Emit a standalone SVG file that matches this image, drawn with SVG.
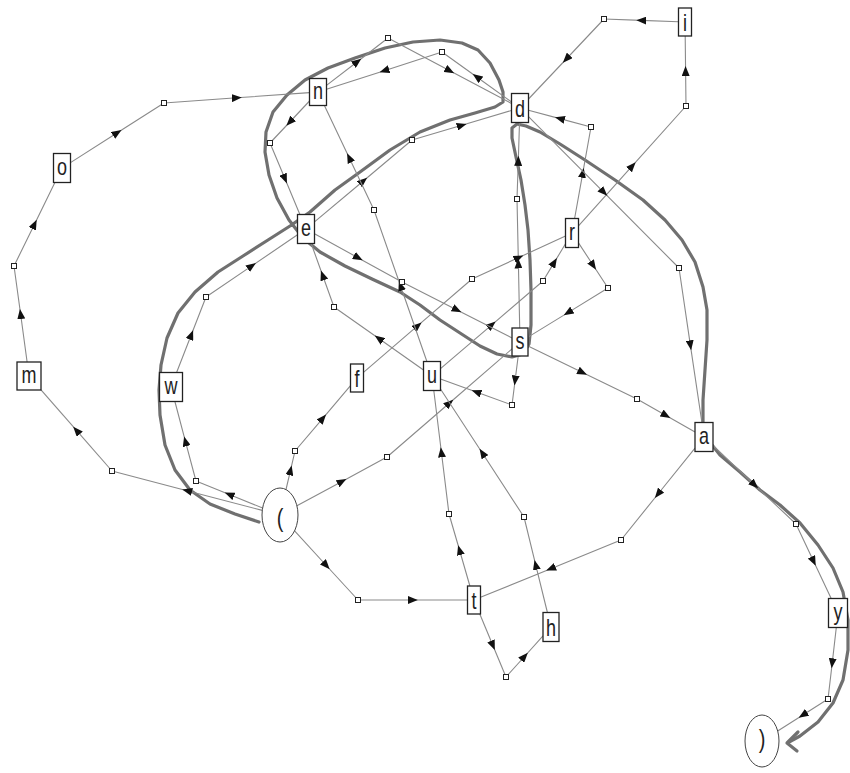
<svg xmlns="http://www.w3.org/2000/svg" width="850" height="773" viewBox="0 0 850 773">
<defs>
<style>
.seg{fill:none;stroke:#8a8a8a;stroke-width:1.1;marker-mid:url(#arr)}
.hl{fill:none;stroke:#707070;stroke-width:3.2;stroke-linejoin:round;stroke-linecap:round}
.bend{fill:#fff;stroke:#222;stroke-width:1}
.box{fill:#fff;stroke:#222;stroke-width:1.3}
.ell{fill:#fff;stroke:#444;stroke-width:1}
.lbl{font-family:"Liberation Sans",Arial,sans-serif;font-size:18px;fill:#222;text-anchor:middle}
.par{font-family:"Liberation Sans",Arial,sans-serif;font-size:20px;fill:#222;text-anchor:middle}
</style>
<marker id="arr" viewBox="0 0 10 8" refX="5" refY="4" markerWidth="10" markerHeight="8" markerUnits="userSpaceOnUse" orient="auto">
<path d="M0,0 L10,4 L0,8 z" fill="#111"/>
</marker>
</defs>
<rect width="850" height="773" fill="#fff"/>
<g id="connectors">
<path id="path-wednesday" class="hl" d="M259,522 L235,514 L210,504 L190,490 L175,470 L165,445 L160,415 L159,390 L161,365 L167,338 L178,313 L195,292 L218,272 L243,256 L268,240 L290,226 L310,212 L335,190 L360,172 L390,150 L420,132 L450,120 L475,113 L495,107 L503,102 L503,92 L499,80 L490,63 L478,50 L462,43 L440,40 L413,42 L385,48 L355,58 L328,68 L305,80 L287,95 L273,112 L266,132 L265,152 L269,175 L277,198 L289,220 L303,238 L320,252 L345,266 L372,279 L400,292 L420,305 L440,320 L460,333 L480,346 L497,354 L512,357 L523,354 L529,344 L531,325 L531,290 L530,260 L528,230 L525,205 L521,180 L516,157 L512,138 L512,128 L517,124 L526,126 L540,132 L560,144 L585,160 L615,180 L643,200 L665,220 L682,240 L695,262 L703,287 L707,310 L707,340 L705,370 L703,400 L703,425 L708,440 L720,455 L740,472 L760,490 L780,505 L800,523 L818,545 L833,568 L843,592 L848,620 L848,650 L843,680 L833,703 L818,722 L800,736 L789,742"/>
<polyline class="hl" points="798,732 787,743 797,751" stroke-width="2.5"/>
<g id="edge-i-d"><path class="seg" d="M678.5,21.8 L641.3,20.4 L604,19"/><path class="seg" d="M604,19 L566.3,59 L528.5,99"/></g>
<g id="edge-r-i"><path class="seg" d="M578.5,225.8 L632.3,165.9 L686,106"/><path class="seg" d="M686,106 L685.6,71 L685.2,36"/></g>
<g id="edge-r-d"><path class="seg" d="M574.6,218.5 L582.8,172.8 L591,127"/><path class="seg" d="M591,127 L559.8,118.6 L528.5,110.3"/></g>
<g id="edge-d-a"><path class="seg" d="M528.5,116.6 L603.8,192.3 L679,268"/><path class="seg" d="M679,268 L690.4,345.3 L701.9,422.5"/></g>
<g id="edge-s-d"><path class="seg" d="M519.7,328 L518.4,263.5 L517,199"/><path class="seg" d="M517,199 L518.3,160.8 L519.5,122.5"/></g>
<g id="edge-s-u"><path class="seg" d="M518.2,356 L515.1,380.5 L512,405"/><path class="seg" d="M512,405 L476.3,392 L440.5,379.1"/></g>
<g id="edge-f-r"><path class="seg" d="M363.5,372.4 L417.8,325.7 L472,279"/><path class="seg" d="M472,279 L518.8,257.5 L565.5,236"/></g>
<g id="edge-start-f"><path class="seg" d="M286,489.5 L290.5,470.3 L295,451"/><path class="seg" d="M295,451 L322.8,418.3 L350.5,385.7"/></g>
<g id="edge-start-s"><path class="seg" d="M296.9,505.8 L342,481.4 L387,457"/><path class="seg" d="M387,457 L449.5,403 L512,348.9"/></g>
<g id="edge-u-r"><path class="seg" d="M440.5,368.7 L491.8,324.8 L543,281"/><path class="seg" d="M543,281 L554.3,262.4 L565.5,243.8"/></g>
<g id="edge-r-s"><path class="seg" d="M578.5,242.9 L593.3,265.5 L608,288"/><path class="seg" d="M608,288 L568,312.6 L528,337.1"/></g>
<g id="edge-s-a"><path class="seg" d="M528,345.9 L582.5,372.5 L637,399"/><path class="seg" d="M637,399 L666,415.5 L695,431.9"/></g>
<g id="edge-t-u"><path class="seg" d="M469.9,586 L459.5,550 L449,514"/><path class="seg" d="M449,514 L441.4,452.3 L433.8,390.5"/></g>
<g id="edge-h-u"><path class="seg" d="M547.4,612.5 L535.7,564.8 L524,517"/><path class="seg" d="M524,517 L482.3,453 L440.5,389"/></g>
<g id="edge-a-t"><path class="seg" d="M695,448.1 L658,494 L621,540"/><path class="seg" d="M621,540 L550.8,568.7 L480.5,597.3"/></g>
<g id="edge-t-h"><path class="seg" d="M479.8,614 L492.9,645.5 L506,677"/><path class="seg" d="M506,677 L524.5,656.5 L543,635.9"/></g>
<g id="edge-start-t"><path class="seg" d="M294.6,530.9 L326.3,565.5 L358,600"/><path class="seg" d="M358,600 L412.8,600 L467.5,600"/></g>
<g id="edge-a-y"><path class="seg" d="M713,445.5 L754.5,484.8 L796,524"/><path class="seg" d="M796,524 L813.6,561.3 L831.2,598.5"/></g>
<g id="edge-y-end"><path class="seg" d="M836.3,627.5 L832.2,663.3 L828,699"/><path class="seg" d="M828,699 L802.9,715 L777.7,731"/></g>
<g id="edge-start-m"><path class="seg" d="M262.3,510.4 L187.1,490.7 L112,471"/><path class="seg" d="M112,471 L76.5,430.4 L41,389.8"/></g>
<g id="edge-m-o"><path class="seg" d="M27.1,362 L20.6,314 L14,266"/><path class="seg" d="M14,266 L34.5,224.3 L54.9,182.5"/></g>
<g id="edge-o-n"><path class="seg" d="M70.5,162.6 L117.3,132.8 L164,103"/><path class="seg" d="M164,103 L236.8,97.8 L309.5,92.6"/></g>
<g id="edge-start-w"><path class="seg" d="M262.6,508 L229.3,494.5 L196,481"/><path class="seg" d="M196,481 L185.4,441.3 L174.9,401.5"/></g>
<g id="edge-w-e"><path class="seg" d="M176.6,372.5 L191.3,334.8 L206,297"/><path class="seg" d="M206,297 L251.8,265.9 L297.5,234.8"/></g>
<g id="edge-n-e"><path class="seg" d="M309.5,101 L289.8,122 L270,143"/><path class="seg" d="M270,143 L285,178.8 L299.9,214.5"/></g>
<g id="edge-e-d"><path class="seg" d="M314.5,221.9 L363.3,181 L412,140"/><path class="seg" d="M412,140 L461.8,125.3 L511.5,110.5"/></g>
<g id="edge-u-e"><path class="seg" d="M423.5,370 L378.8,338.5 L334,307"/><path class="seg" d="M334,307 L322.6,275.3 L311.2,243.5"/></g>
<g id="edge-n-d"><path class="seg" d="M326.5,85.4 L357.3,61.7 L388,38"/><path class="seg" d="M388,38 L449.8,70.8 L511.5,103.5"/></g>
<g id="edge-d-n"><path class="seg" d="M511.5,101.9 L476.8,77 L442,52"/><path class="seg" d="M442,52 L384.3,70.7 L326.5,89.3"/></g>
<g id="edge-e-s"><path class="seg" d="M314.5,233.7 L358.3,257.9 L402,282"/><path class="seg" d="M402,282 L457,310 L512,337.9"/></g>
<g id="edge-u-n"><path class="seg" d="M426.9,361.5 L400.5,285.8 L374,210"/><path class="seg" d="M374,210 L349.2,157.8 L324.4,105.5"/></g>
<g id="bends">
<rect class="bend" x="601.5" y="16.5" width="5" height="5"/>
<rect class="bend" x="683.5" y="103.5" width="5" height="5"/>
<rect class="bend" x="588.5" y="124.5" width="5" height="5"/>
<rect class="bend" x="676.5" y="265.5" width="5" height="5"/>
<rect class="bend" x="514.5" y="196.5" width="5" height="5"/>
<rect class="bend" x="509.5" y="402.5" width="5" height="5"/>
<rect class="bend" x="469.5" y="276.5" width="5" height="5"/>
<rect class="bend" x="292.5" y="448.5" width="5" height="5"/>
<rect class="bend" x="384.5" y="454.5" width="5" height="5"/>
<rect class="bend" x="540.5" y="278.5" width="5" height="5"/>
<rect class="bend" x="605.5" y="285.5" width="5" height="5"/>
<rect class="bend" x="634.5" y="396.5" width="5" height="5"/>
<rect class="bend" x="446.5" y="511.5" width="5" height="5"/>
<rect class="bend" x="521.5" y="514.5" width="5" height="5"/>
<rect class="bend" x="618.5" y="537.5" width="5" height="5"/>
<rect class="bend" x="503.5" y="674.5" width="5" height="5"/>
<rect class="bend" x="355.5" y="597.5" width="5" height="5"/>
<rect class="bend" x="793.5" y="521.5" width="5" height="5"/>
<rect class="bend" x="825.5" y="696.5" width="5" height="5"/>
<rect class="bend" x="109.5" y="468.5" width="5" height="5"/>
<rect class="bend" x="11.5" y="263.5" width="5" height="5"/>
<rect class="bend" x="161.5" y="100.5" width="5" height="5"/>
<rect class="bend" x="193.5" y="478.5" width="5" height="5"/>
<rect class="bend" x="203.5" y="294.5" width="5" height="5"/>
<rect class="bend" x="267.5" y="140.5" width="5" height="5"/>
<rect class="bend" x="409.5" y="137.5" width="5" height="5"/>
<rect class="bend" x="331.5" y="304.5" width="5" height="5"/>
<rect class="bend" x="385.5" y="35.5" width="5" height="5"/>
<rect class="bend" x="439.5" y="49.5" width="5" height="5"/>
<rect class="bend" x="399.5" y="279.5" width="5" height="5"/>
<rect class="bend" x="371.5" y="207.5" width="5" height="5"/>
</g>
</g>
<g id="node-start"><ellipse class="ell" cx="280" cy="515" rx="18" ry="27"/><text class="par" transform="translate(280,515) scale(1,1.3)" y="9">(</text></g>
<g id="node-end"><ellipse class="ell" cx="762" cy="741" rx="17" ry="26"/><text class="par" transform="translate(762,741) scale(1,1.3)" y="5">)</text></g>
<g id="node-i"><rect class="box" x="678.5" y="8" width="13" height="28"/><text class="lbl" transform="translate(685,22) scale(1,1.3)" y="7">i</text></g>
<g id="node-n"><rect class="box" x="309.5" y="78.5" width="17" height="27"/><text class="lbl" transform="translate(318,92) scale(1,1.3)" y="5.5">n</text></g>
<g id="node-d"><rect class="box" x="511.5" y="93.5" width="17" height="29"/><text class="lbl" transform="translate(520,108) scale(1,1.3)" y="7">d</text></g>
<g id="node-o"><rect class="box" x="53.5" y="153.5" width="17" height="29"/><text class="lbl" transform="translate(62,168) scale(1,1.3)" y="5.5">o</text></g>
<g id="node-e"><rect class="box" x="297.5" y="214.5" width="17" height="29"/><text class="lbl" transform="translate(306,229) scale(1,1.3)" y="5.5">e</text></g>
<g id="node-r"><rect class="box" x="565.5" y="218.5" width="13" height="29"/><text class="lbl" transform="translate(572,233) scale(1,1.3)" y="5.5">r</text></g>
<g id="node-s"><rect class="box" x="512" y="328" width="16" height="28"/><text class="lbl" transform="translate(520,342) scale(1,1.3)" y="5.5">s</text></g>
<g id="node-m"><rect class="box" x="17" y="362" width="24" height="28"/><text class="lbl" transform="translate(29,376) scale(1,1.3)" y="5.5">m</text></g>
<g id="node-w"><rect class="box" x="159.5" y="372.5" width="23" height="29"/><text class="lbl" transform="translate(171,387) scale(1,1.3)" y="5.5">w</text></g>
<g id="node-f"><rect class="box" x="350.5" y="364" width="13" height="28"/><text class="lbl" transform="translate(357,378) scale(1,1.3)" y="7">f</text></g>
<g id="node-u"><rect class="box" x="423.5" y="361.5" width="17" height="29"/><text class="lbl" transform="translate(432,376) scale(1,1.3)" y="5.5">u</text></g>
<g id="node-a"><rect class="box" x="695" y="422.5" width="18" height="29"/><text class="lbl" transform="translate(704,437) scale(1,1.3)" y="5.5">a</text></g>
<g id="node-t"><rect class="box" x="467.5" y="586" width="13" height="28"/><text class="lbl" transform="translate(474,600) scale(1,1.3)" y="7">t</text></g>
<g id="node-h"><rect class="box" x="543" y="612.5" width="16" height="29"/><text class="lbl" transform="translate(551,627) scale(1,1.3)" y="7">h</text></g>
<g id="node-y"><rect class="box" x="828.5" y="598.5" width="19" height="29"/><text class="lbl" transform="translate(838,613) scale(1,1.3)" y="5">y</text></g>
</svg>
